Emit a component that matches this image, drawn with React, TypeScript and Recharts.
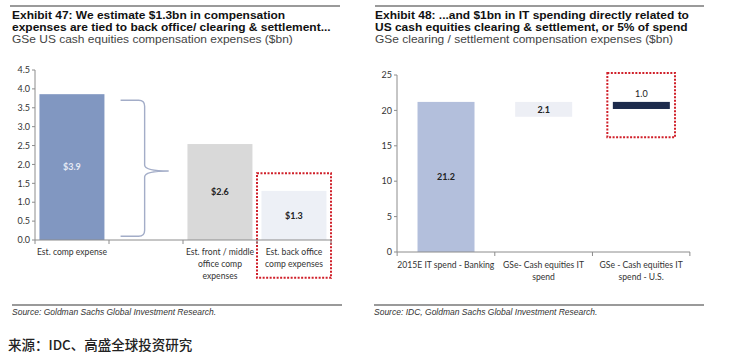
import React from 'react';
import { BarChart, Bar, XAxis, YAxis, LabelList, ReferenceArea } from 'recharts';

// ---- Exhibit 47 data ----
const compCategories = ['Est. comp expense', ' ', 'Est. front / middle\noffice comp\nexpenses', 'Est. back office\ncomp expenses'];
const compLow = [0, 0.1, 0, 0];
const compHigh = [3.86, 3.7, 2.54, 1.3];
const compLabels = ['$3.9', '', '$2.6', '$1.3'];
const compTicks = [0, 0.5, 1, 1.5, 2, 2.5, 3, 3.5, 4, 4.5];

// ---- Exhibit 48 data ----
const itCategories = ['2015E IT spend - Banking', 'GSe- Cash equities IT\nspend', 'GSe - Cash equities IT\nspend - U.S.'];
const itLow = [0, 19.1, 20.2];
const itHigh = [21.2, 21.2, 21.2];
const itLabels = ['21.2', '2.1', '1.0'];
const itTicks = [0, 5, 10, 15, 20, 25];

const compData = compCategories.map((c, i) => ({ name: c, range: [compLow[i], compHigh[i]], label: compLabels[i] }));
const itData = itCategories.map((c, i) => ({ name: c, range: [itLow[i], itHigh[i]], label: itLabels[i] }));

const compColors = ['#8197c1', 'none', '#d9d9d9', '#edf0f6'];
const itColors = ['#b3bfdc', '#edeff5', '#1d2b4c'];

const AXIS = '#8c8c8c';
const TICK_FONT = 'Lato, "Open Sans", sans-serif';

function makeXTick(halfBand: number, count: number, firstDy: number) {
  return (props: any) => {
    const { x, y, payload, index } = props;
    const lines = String(payload.value).split('\n');
    const ay = y - 8;
    return (
      <g>
        <line x1={x - halfBand} x2={x - halfBand} y1={ay} y2={ay + 4} stroke={AXIS} strokeWidth={1} />
        {index === count - 1 && (
          <line x1={x + halfBand} x2={x + halfBand} y1={ay} y2={ay + 4} stroke={AXIS} strokeWidth={1} />
        )}
        <text x={x} y={ay + firstDy} textAnchor="middle" fontSize={8.6} fontFamily={TICK_FONT} fill="#333">
          {lines.map((l, i) => (
            <tspan key={i} x={x} dy={i === 0 ? 0 : 11.8}>{l}</tspan>
          ))}
        </text>
      </g>
    );
  };
}

const Brace = (props: any) => {
  const { x, y, width, height } = props;
  const left = x + width * 0.11;
  const right = x + width * 0.85;
  const v = (left + right) / 2;
  const top = y;
  const bottom = y + height;
  const mid = top + (bottom - top) * 0.52;
  const r = 6;
  const d = [
    `M ${left} ${top}`,
    `L ${v - r} ${top}`,
    `Q ${v} ${top} ${v} ${top + r}`,
    `L ${v} ${mid - r}`,
    `Q ${v} ${mid} ${right} ${mid}`,
    `Q ${v} ${mid} ${v} ${mid + r}`,
    `L ${v} ${bottom - r}`,
    `Q ${v} ${bottom} ${v - r} ${bottom}`,
    `L ${left} ${bottom}`,
  ].join(' ');
  return <path d={d} fill="none" stroke="#a3adc8" strokeWidth={1.4} />;
};

const compShape = (props: any) => {
  const { x, y, width, height, index } = props;
  if (index === 1) return <Brace {...props} />;
  return <rect x={x} y={y} width={width} height={height} fill={compColors[index]} />;
};

const itShape = (props: any) => {
  const { x, y, width, height, index } = props;
  return <rect x={x} y={y} width={width} height={height} fill={itColors[index]} />;
};

const compLabel = (props: any) => {
  const { x, y, width, height, index, value } = props;
  if (!value) return null;
  return (
    <text x={x + width / 2} y={y + height / 2} dy={3.2} textAnchor="middle" fontSize={9} fontWeight={700}
      fontFamily={TICK_FONT} fill={index === 0 ? '#e6ebf5' : '#222'}>
      {value}
    </text>
  );
};

const itLabel = (props: any) => {
  const { x, y, width, height, index, value } = props;
  const top = index === 2;
  return (
    <text x={x + width / 2} y={top ? y - 5 : y + height / 2 + 3.2} textAnchor="middle" fontSize={9}
      fontWeight={top ? 400 : 700} fontFamily={TICK_FONT} fill="#222">
      {value}
    </text>
  );
};

const RedBox = (inset: number) => (props: any) => {
  const { x, y, width, height } = props;
  return (
    <rect x={x + inset} y={y} width={width - inset * 2} height={height} fill="none" stroke="#d0202a"
      strokeWidth={2} strokeDasharray="2 1.5" />
  );
};

const titleStyle: React.CSSProperties = {
  position: 'absolute',
  fontFamily: '"Liberation Sans", Arial, sans-serif',
  fontWeight: 700,
  fontSize: 10.5,
  lineHeight: '12.1px',
  color: '#111',
  whiteSpace: 'nowrap',
  transform: 'scaleX(1.14)',
  transformOrigin: 'left top',
};
const subStyle: React.CSSProperties = {
  fontWeight: 400,
  fontSize: 10.5,
  color: '#444',
};
const sourceStyle: React.CSSProperties = {
  position: 'absolute',
  fontFamily: '"Liberation Sans", Arial, sans-serif',
  fontStyle: 'italic',
  fontSize: 8.5,
  color: '#333',
  whiteSpace: 'nowrap',
};

export default function App() {
  return (
    <div style={{ position: 'fixed', left: 0, top: 0, width: 732, height: 355, background: '#fff', overflow: 'hidden' }}>
      {/* top rules */}
      <div style={{ position: 'absolute', left: 10, top: 5, width: 330, height: 2, background: '#9a9a9a' }} />
      <div style={{ position: 'absolute', left: 375, top: 5, width: 329, height: 2, background: '#9a9a9a' }} />

      <div style={{ ...titleStyle, left: 12, top: 9 }}>
        <div>Exhibit 47: We estimate $1.3bn in compensation</div>
        <div>expenses are tied to back office/ clearing &amp; settlement...</div>
        <div style={subStyle}>GSe US cash equities compensation expenses ($bn)</div>
      </div>
      <div style={{ ...titleStyle, left: 375, top: 9 }}>
        <div>Exhibit 48: ...and $1bn in IT spending directly related to</div>
        <div>US cash equities clearing &amp; settlement, or 5% of spend</div>
        <div style={subStyle}>GSe clearing / settlement compensation expenses ($bn)</div>
      </div>

      {/* Exhibit 47 chart */}
      <div style={{ position: 'absolute', left: 0, top: 0 }}>
        <BarChart width={345} height={290} data={compData} margin={{ top: 70, right: 14, left: 0, bottom: 0 }}
          barCategoryGap="6%">
          <XAxis dataKey="name" height={50} stroke={AXIS} tickLine={false} interval={0}
            tick={makeXTick(37, compCategories.length, 15)} />
          <YAxis width={35} domain={[0, 4.5]} ticks={compTicks} stroke={AXIS} tickSize={3}
            tickFormatter={(v: number) => v.toFixed(1)}
            tick={{ fontSize: 9, fill: '#333', fontFamily: TICK_FONT }} />
          <Bar dataKey="range" isAnimationActive={false} shape={compShape}>
            <LabelList dataKey="label" content={compLabel} />
          </Bar>
          <ReferenceArea x1={compCategories[3]} x2={compCategories[3]} y1={-1.0} y2={1.77} ifOverflow="visible"
            shape={RedBox(0)} />
        </BarChart>
      </div>

      {/* Exhibit 48 chart */}
      <div style={{ position: 'absolute', left: 366, top: 0 }}>
        <BarChart width={340} height={297} data={itData} margin={{ top: 75, right: 16, left: 0, bottom: 0 }}
          barCategoryGap="21%">
          <XAxis dataKey="name" height={45} stroke={AXIS} tickLine={false} interval={0}
            tick={makeXTick(48.7, itCategories.length, 16)} />
          <YAxis width={31} domain={[0, 25]} ticks={itTicks} stroke={AXIS} tickSize={3}
            tick={{ fontSize: 9, fill: '#333', fontFamily: TICK_FONT }} />
          <Bar dataKey="range" isAnimationActive={false} shape={itShape}>
            <LabelList dataKey="label" content={itLabel} />
          </Bar>
          <ReferenceArea x1={itCategories[2]} x2={itCategories[2]} y1={16.2} y2={25.3} ifOverflow="visible"
            shape={RedBox(15)} />
        </BarChart>
      </div>

      {/* source rules and notes */}
      <div style={{ position: 'absolute', left: 12, top: 304, width: 330, height: 2, background: '#9a9a9a' }} />
      <div style={{ position: 'absolute', left: 374, top: 304, width: 330, height: 2, background: '#9a9a9a' }} />
      <div style={{ ...sourceStyle, left: 12, top: 307 }}>Source: Goldman Sachs Global Investment Research.</div>
      <div style={{ ...sourceStyle, left: 374, top: 307 }}>Source: IDC, Goldman Sachs Global Investment Research.</div>

      <div style={{ position: 'absolute', left: 8, top: 334, fontFamily: '"Noto Sans CJK SC", sans-serif', fontSize: 13.5,
        fontWeight: 500, color: '#222', whiteSpace: 'nowrap' }}>
        来源：IDC、高盛全球投资研究
      </div>
    </div>
  );
}
